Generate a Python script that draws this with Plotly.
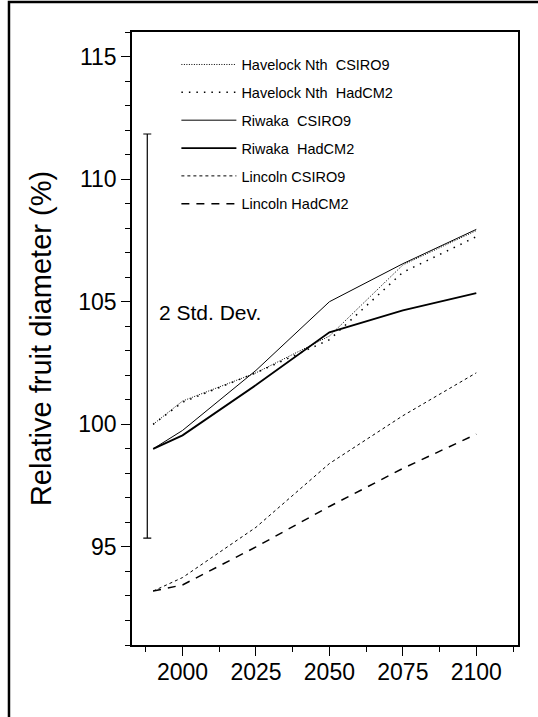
import plotly.graph_objects as go

# Projection years and relative fruit diameter (%) per site / climate model
years = [1990, 2000, 2025, 2050, 2075, 2100]

havelock_csiro9 = [100.0, 100.95, 102.1, 103.6, 106.5, 107.9]
havelock_hadcm2 = [100.0, 100.9, 102.1, 103.45, 106.2, 107.65]
riwaka_csiro9 = [99.0, 99.75, 102.2, 105.0, 106.55, 107.95]
riwaka_hadcm2 = [99.0, 99.55, 101.6, 103.75, 104.65, 105.35]
lincoln_csiro9 = [93.2, 93.75, 95.8, 98.4, 100.35, 102.1]
lincoln_hadcm2 = [93.2, 93.45, 95.0, 96.65, 98.2, 99.6]

series_names = [
    "Havelock Nth\u00a0\u00a0CSIRO9",
    "Havelock Nth\u00a0\u00a0HadCM2",
    "Riwaka\u00a0\u00a0CSIRO9",
    "Riwaka\u00a0\u00a0HadCM2",
    "Lincoln CSIRO9",
    "Lincoln HadCM2",
]
series_values = [havelock_csiro9, havelock_hadcm2, riwaka_csiro9,
                 riwaka_hadcm2, lincoln_csiro9, lincoln_hadcm2]
series_styles = [
    dict(width=1, dash="1px,1.5px"),
    dict(width=1.5, dash="1.5px,6px"),
    dict(width=1, dash="solid"),
    dict(width=1.8, dash="solid"),
    dict(width=1, dash="3px,3px"),
    dict(width=1.5, dash="8px,7px"),
]

# Two-standard-deviation bar
sd_year = [1988]
sd_center = [103.6]
sd_half = [8.24]

x_ticks = [2000, 2025, 2050, 2075, 2100]
y_ticks = [95, 100, 105, 110, 115]

FONT = "Liberation Sans, Arial, sans-serif"
NARROW = "Liberation Sans Narrow, Arial Narrow, Liberation Sans, Arial, sans-serif"

fig = go.Figure()
for i, (name, vals, st) in enumerate(zip(series_names, series_values, series_styles)):
    fig.add_trace(go.Scatter(
        x=years, y=vals, mode="lines", name=name, legendgroup=f"g{i}",
        line=dict(color="black", **st),
    ))

fig.add_trace(go.Scatter(
    x=sd_year, y=sd_center, mode="markers", showlegend=False,
    marker=dict(size=0.1, color="rgba(0,0,0,0)"),
    error_y=dict(type="data", array=sd_half, color="black",
                 thickness=1.2, width=4),
    hoverinfo="skip",
))

fig.add_annotation(
    x=1991.2, y=104.55, xref="x", yref="y", text="2 Std. Dev.",
    showarrow=False, xanchor="left", yanchor="middle",
    font=dict(family=FONT, size=21, color="black"),
)

# Outer frame around the whole figure
fig.add_shape(
    type="rect", xref="paper", yref="paper",
    x0=-0.3187, x1=1.2, y0=-0.3, y1=1.0489,
    line=dict(color="black", width=2.5), layer="below",
)

axis_common = dict(
    showline=True, linecolor="black", linewidth=1.5, mirror=True,
    ticks="outside", ticklen=9, tickwidth=1.2, tickcolor="black",
    showgrid=False, zeroline=False,
    tickfont=dict(family=FONT, size=23, color="black"),
)

fig.update_xaxes(
    range=[1982.8, 2114.2], tickvals=x_ticks, ticklabelstandoff=-3,
    minor=dict(ticks="outside", ticklen=5, tickwidth=1.2,
               tickcolor="black", dtick=12.5, tick0=1987.5),
    **axis_common,
)
fig.update_yaxes(
    range=[91, 116], tickvals=y_ticks,
    title=dict(text="Relative fruit diameter (%)", standoff=18,
               font=dict(family=FONT, size=29, color="black")),
    minor=dict(ticks="outside", ticklen=5, tickwidth=1.2,
               tickcolor="black", dtick=1),
    **axis_common,
)

fig.update_layout(
    width=538, height=717,
    margin=dict(l=132, r=20, t=32, b=72),
    paper_bgcolor="white", plot_bgcolor="white",
    showlegend=True,
    legend=dict(
        x=0.115, y=0.973, xanchor="left", yanchor="top",
        bgcolor="rgba(0,0,0,0)", borderwidth=0,
        font=dict(family=NARROW, size=14.5, color="black"),
        itemwidth=55, tracegroupgap=6,
    ),
)

fig.write_html("out.html")
